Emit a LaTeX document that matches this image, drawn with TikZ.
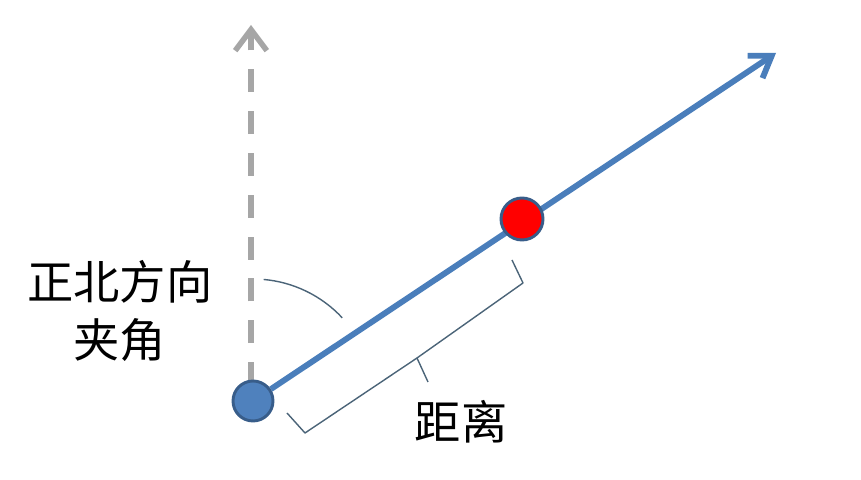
\documentclass[tikz,border=0pt]{standalone}
\usepackage{fontspec}
\newfontfamily\cjk{Noto Sans CJK SC}
\usepackage{tikz}
\usetikzlibrary{arrows.meta,positioning,calc,backgrounds}
\definecolor{lineblue}{HTML}{4A7EBB}
\definecolor{dotblue}{HTML}{4F81BD}
\definecolor{dotedge}{HTML}{385D8A}
\definecolor{northgray}{HTML}{A6A6A6}
\definecolor{markgray}{HTML}{4B6478}

\begin{document}
\begin{tikzpicture}[
    x=0.03cm, y=0.03cm,
    startdot/.style={circle, draw=dotedge, line width=2.5pt, fill=dotblue, minimum size=1.2cm, inner sep=0},
    targetdot/.style={circle, draw=dotedge, line width=2.5pt, fill=red, minimum size=1.26cm, inner sep=0},
    northline/.style={northgray, line width=4.7pt, dash pattern=on 19.5pt off 16.2pt, -{Straight Barb[length=18pt, width=27pt]}},
    bearing/.style={lineblue, line width=5pt, -{Straight Barb[length=17pt, width=23pt]}},
    marker/.style={markgray, line width=1.2pt},
    cnlabel/.style={font=\cjk\fontsize{39.5}{49}\selectfont, align=center}
]
    \useasboundingbox (0,0) rectangle (861,480);

    % Points
    \node[startdot] (o) at (253,79) {};
    \node[targetdot] (p) at (522,261) {};
    \coordinate (northfoot) at (251,95);
    \coordinate (northtip) at (251,455);
    \coordinate (bearingtip) at (776,427);

    % Direction lines
    \begin{scope}[on background layer]
        \draw[northline] (northfoot) -- (northtip);
        \draw[bearing] (o) -- (bearingtip);
    \end{scope}

    % Angle arc
    \draw[marker] ([shift={(85:3.66cm)}]o.center) arc[start angle=85, end angle=43, radius=3.66cm];

    % Brace under the distance
    \coordinate (b1) at (287,67);
    \coordinate (b2) at (305,47);
    \coordinate (bj) at (417,122);
    \coordinate (bt) at (428,98);
    \coordinate (b3) at (523,197);
    \coordinate (b4) at (512,220);
    \draw[marker, line join=round] (b1) -- (b2) -- (bj) -- (bt);
    \draw[marker, line join=round] (bj) -- (b3) -- (b4);

    % Labels
    \node[cnlabel] (angletxt) at (120,169) {正北方向\\夹角};
    \node[cnlabel] (disttxt) at (461,58) {距离};
\end{tikzpicture}
\end{document}
